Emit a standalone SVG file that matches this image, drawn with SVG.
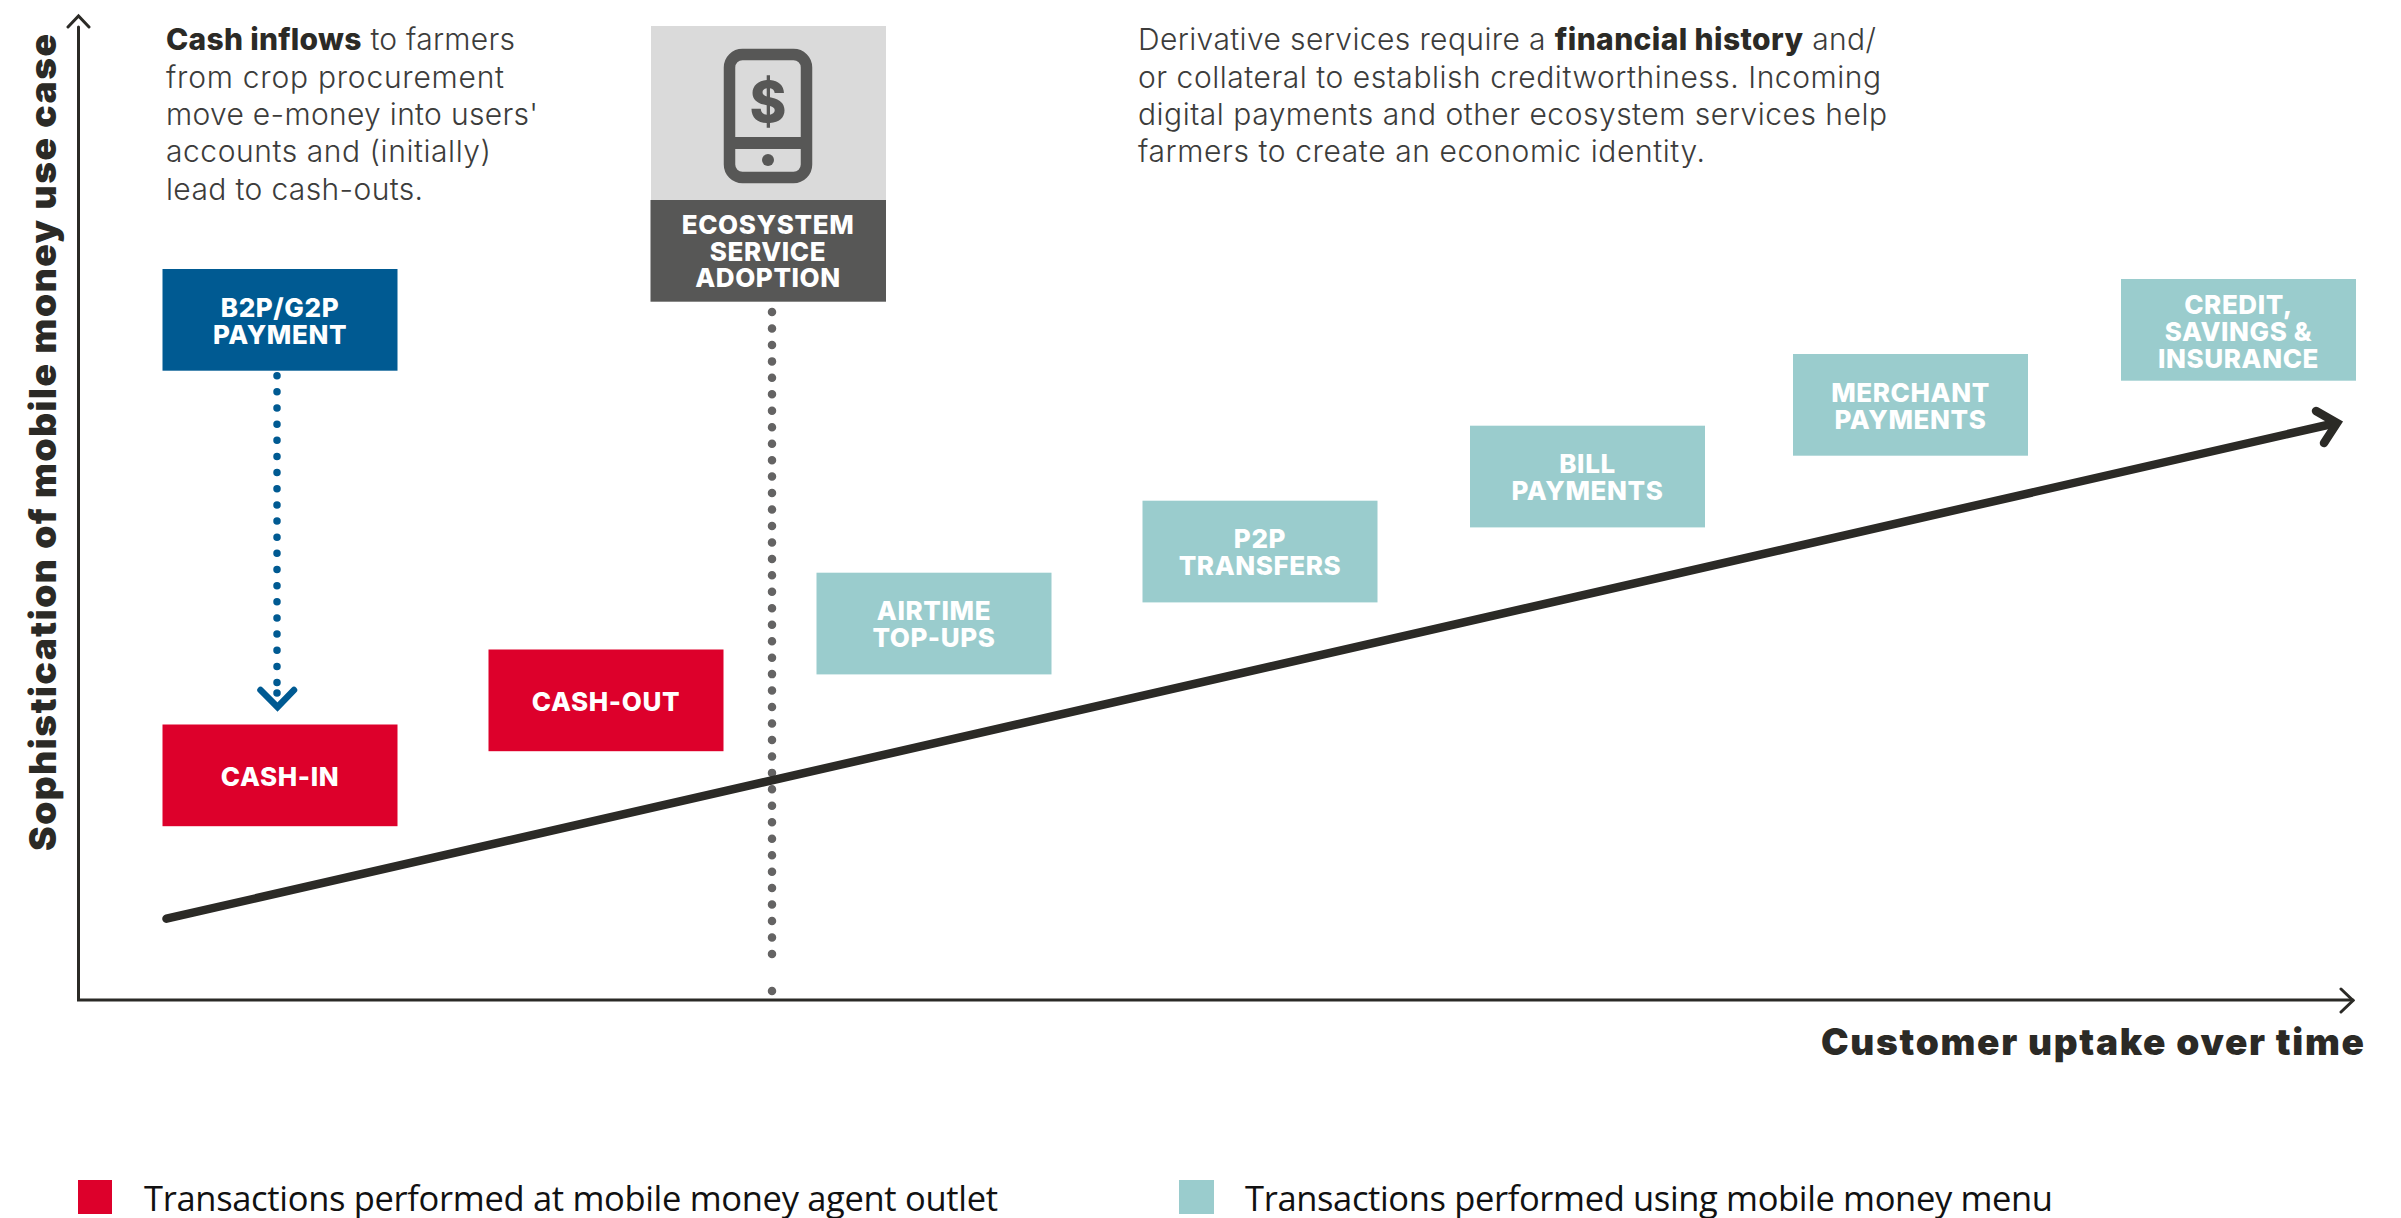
<svg xmlns="http://www.w3.org/2000/svg" width="2401" height="1218" viewBox="0 0 2401 1218">
<style>
text{font-family:"Inter","Liberation Sans",sans-serif}
.lbl{font-size:26px;font-weight:800;fill:#fff;text-anchor:middle;letter-spacing:.6px}
.body{font-size:30px;font-weight:300;fill:#3c3c3b}
.body tspan{font-weight:800;fill:#2b2a26}
.axis{font-size:37px;font-weight:900;fill:#2b2a26}
.leg{font-family:"Open Sans","Liberation Sans",sans-serif;font-size:34.500px;fill:#111}
.ax{fill:none;stroke:#2b2a26;stroke-width:3}
.red{fill:#dd002b}.teal{fill:#9acccd}.blue{fill:#005a92}
</style>
<g id="connectors" fill="none" stroke-linecap="round" stroke-linejoin="miter">
<path class="ax" d="M78.500 27L78.500 1000H2353"/>
<path class="ax" stroke-linecap="round" d="M68 27L78.500 16L89 27M2341 989L2353 1000.500L2341 1012"/>
<path d="M772 312V970M772 991V991.100" stroke="#646363" stroke-width="8.500" stroke-dasharray="0 16.460"/>
<path d="M166.500 918.700L2334 423.500" stroke="#2b2a26" stroke-width="8.500"/>
<path d="M2316 411L2337 423L2324 443" stroke="#2b2a26" stroke-width="8.500"/>
<path d="M277 375.700V682.600M277 693V693.100" stroke="#005a92" stroke-width="7.500" stroke-dasharray="0 16.150"/>
<path d="M260.500 690L277.500 707L294 690" stroke="#005a92" stroke-width="6.500"/>
</g>
<g id="node-ecosystem">
<rect x="651" y="26" width="235" height="175" fill="#dadada"/>
<rect x="650.500" y="200" width="235.500" height="101.700" fill="#575756"/>
<rect x="729.500" y="54.500" width="77" height="123" rx="13" fill="none" stroke="#575756" stroke-width="11.500"/>
<path d="M730 143H806" stroke="#575756" stroke-width="12"/>
<circle cx="768" cy="160" r="6" fill="#575756"/>
<text x="768" y="122" text-anchor="middle" font-size="56" font-weight="800" fill="#575756">$</text>
<text class="lbl" x="768" y="234">ECOSYSTEM</text>
<text class="lbl" x="768" y="260.500">SERVICE</text>
<text class="lbl" x="768" y="287">ADOPTION</text>
</g>
<g id="node-b2p"><rect class="blue" x="162.500" y="269" width="235" height="101.700"/><text class="lbl" x="280" y="317">B2P/G2P</text><text class="lbl" x="280" y="343.500">PAYMENT</text></g>
<g id="node-cash-in"><rect class="red" x="162.500" y="724.500" width="235" height="101.700"/><text class="lbl" x="280" y="786">CASH-IN</text></g>
<g id="node-cash-out"><rect class="red" x="488.500" y="649.500" width="235" height="101.700"/><text class="lbl" x="606" y="711">CASH-OUT</text></g>
<g id="node-airtime"><rect class="teal" x="816.500" y="572.700" width="235" height="101.700"/><text class="lbl" x="934" y="620">AIRTIME</text><text class="lbl" x="934" y="647">TOP-UPS</text></g>
<g id="node-p2p"><rect class="teal" x="1142.500" y="500.700" width="235" height="101.700"/><text class="lbl" x="1260" y="548">P2P</text><text class="lbl" x="1260" y="575">TRANSFERS</text></g>
<g id="node-bill"><rect class="teal" x="1470" y="425.700" width="235" height="101.700"/><text class="lbl" x="1587.500" y="473">BILL</text><text class="lbl" x="1587.500" y="500">PAYMENTS</text></g>
<g id="node-merchant"><rect class="teal" x="1793" y="354" width="235" height="101.700"/><text class="lbl" x="1910.500" y="402">MERCHANT</text><text class="lbl" x="1910.500" y="429">PAYMENTS</text></g>
<g id="node-credit"><rect class="teal" x="2121" y="279" width="235" height="101.700"/><text class="lbl" x="2238.500" y="314">CREDIT,</text><text class="lbl" x="2238.500" y="341">SAVINGS &amp;</text><text class="lbl" x="2238.500" y="368">INSURANCE</text></g>
<g id="note-left">
<text class="body" x="166" y="50" textLength="349"><tspan>Cash inflows</tspan> to farmers</text>
<text class="body" x="166" y="87.500" textLength="338">from crop procurement</text>
<text class="body" x="166" y="125" textLength="372">move e-money into users'</text>
<text class="body" x="166" y="162" textLength="325">accounts and (initially)</text>
<text class="body" x="166" y="199.500" textLength="257">lead to cash-outs.</text>
</g>
<g id="note-right">
<text class="body" x="1138" y="50" textLength="738">Derivative services require a <tspan>financial history</tspan> and/</text>
<text class="body" x="1138" y="87.500" textLength="743">or collateral to establish creditworthiness. Incoming</text>
<text class="body" x="1138" y="125" textLength="749">digital payments and other ecosystem services help</text>
<text class="body" x="1138" y="162" textLength="567">farmers to create an economic identity.</text>
</g>
<text class="axis" transform="translate(56 851) rotate(-90)" textLength="817">Sophistication of mobile money use case</text>
<text class="axis" x="1821" y="1055" textLength="543">Customer uptake over time</text>
<g id="legend">
<rect class="red" x="78" y="1180" width="34" height="34"/>
<text class="leg" x="144" y="1211" textLength="854">Transactions performed at mobile money agent outlet</text>
<rect class="teal" x="1179" y="1180" width="35" height="34"/>
<text class="leg" x="1245" y="1211" textLength="808">Transactions performed using mobile money menu</text>
</g>
</svg>
